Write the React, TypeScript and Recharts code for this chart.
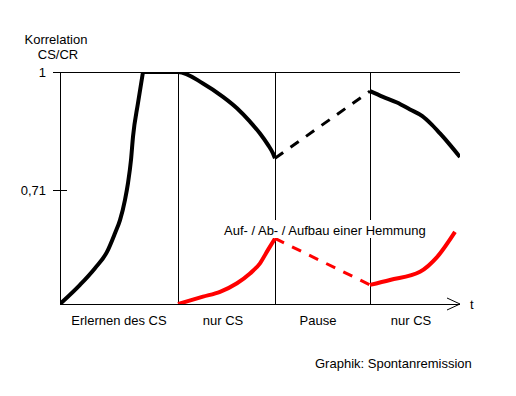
import React from 'react';
import { LineChart, Line, XAxis, YAxis, ReferenceLine } from 'recharts';

// time axis runs 0..400, correlation axis 0.43..1 (schematic)
const learnT = [0, 20, 35, 47, 55, 60, 65, 68, 71, 73, 78, 83];
const learnV = [0.43, 0.477, 0.518, 0.558, 0.604, 0.636, 0.686, 0.727, 0.784, 0.841, 0.924, 1];

const extinct1T = [83, 118, 143, 163, 177, 190, 200, 208, 213, 215];
const extinct1V = [1, 1, 0.972, 0.939, 0.911, 0.878, 0.849, 0.821, 0.8, 0.788];

const pauseBlackT = [215, 310];
const pauseBlackV = [0.788, 0.953];

const extinct2T = [310, 323, 337, 350, 362, 372, 380, 390, 400];
const extinct2V = [0.953, 0.939, 0.925, 0.908, 0.892, 0.87, 0.849, 0.821, 0.791];

const inhib1T = [118, 143, 160, 177, 190, 200, 208, 215];
const inhib1V = [0.43, 0.448, 0.46, 0.481, 0.505, 0.53, 0.563, 0.591];

const pauseRedT = [215, 310];
const pauseRedV = [0.591, 0.477];

const inhib2T = [310, 330, 360, 377, 395];
const inhib2V = [0.477, 0.489, 0.509, 0.545, 0.607];

const phaseBounds = [118, 215, 310];
const phaseTicks = [59, 163, 258, 351];
const phaseLabels = ['Erlernen des CS', 'nur CS', 'Pause', 'nur CS'];
const yTicks = [0.71, 1];

const zip = (t: number[], v: number[]) => t.map((x, i) => ({ t: x, v: v[i] }));

const FONT = '"Liberation Sans", Arial, sans-serif';

const YTick = (props: any) => {
  const { x, y, payload } = props;
  return (
    <g>
      <line x1={x - 7} x2={x + 7} y1={y} y2={y} stroke="#000" shapeRendering="crispEdges" />
      <text x={x - 14} y={y} dy={4.6} textAnchor="end" fontSize={13} fill="#000" fontFamily={FONT}>
        {String(payload.value).replace('.', ',')}
      </text>
    </g>
  );
};

const XTick = (props: any) => {
  const { x, y, payload, index } = props;
  return (
    <text x={x} y={y + 21} textAnchor="middle" fontSize={13} fill="#000" fontFamily={FONT}>
      {phaseLabels[index] ?? payload.value}
    </text>
  );
};

const ArrowAxis = (p: any) => (
  <g>
    <line x1={p.x1} y1={p.y1} x2={p.x2} y2={p.y2} stroke="#000" shapeRendering="crispEdges" />
    <polyline
      points={`${p.x2 - 13},${p.y2 - 6} ${p.x2},${p.y2} ${p.x2 - 13},${p.y2 + 6}`}
      fill="none"
      stroke="#000"
    />
  </g>
);

const txt: React.CSSProperties = {
  position: 'absolute',
  fontFamily: FONT,
  fontSize: 13,
  lineHeight: '15px',
  color: '#000',
  whiteSpace: 'nowrap',
};

export default function App() {
  return (
    <div style={{ position: 'absolute', left: 0, top: 0, width: 516, height: 396, background: '#fff' }}>
      <LineChart width={516} height={396} margin={{ top: 72, right: 56, bottom: 62, left: 0 }}>
        <XAxis
          type="number"
          dataKey="t"
          domain={[0, 400]}
          ticks={phaseTicks}
          axisLine={false}
          tickLine={false}
          tickSize={0}
          tickMargin={0}
          height={30}
          tick={<XTick />}
          allowDataOverflow
        />
        <YAxis
          type="number"
          dataKey="v"
          domain={[0.43, 1]}
          ticks={yTicks}
          width={60}
          tickLine={false}
          tickSize={0}
          tickMargin={0}
          axisLine={{ stroke: '#000', shapeRendering: 'crispEdges' }}
          tick={<YTick />}
          allowDataOverflow
        />
        <ReferenceLine y={1} stroke="#000" shapeRendering="crispEdges" />
        {phaseBounds.map((b) => (
          <ReferenceLine key={b} x={b} stroke="#000" shapeRendering="crispEdges" />
        ))}
        <ReferenceLine
          y={0.43}
          shape={<ArrowAxis />}
          label={{ value: 't', position: 'right', offset: 10, fill: '#000', fontSize: 13, fontFamily: FONT }}
        />

        <Line data={zip(learnT, learnV)} dataKey="v" type="monotone" stroke="#000" strokeWidth={4} dot={false} strokeLinecap="round" isAnimationActive={false} />
        <Line data={zip(extinct1T, extinct1V)} dataKey="v" type="monotone" stroke="#000" strokeWidth={4} dot={false} isAnimationActive={false} />
        <Line data={zip(pauseBlackT, pauseBlackV)} dataKey="v" type="linear" stroke="#000" strokeWidth={3} strokeDasharray="10 9" dot={false} isAnimationActive={false} />
        <Line data={zip(extinct2T, extinct2V)} dataKey="v" type="monotone" stroke="#000" strokeWidth={4} dot={false} isAnimationActive={false} />

        <Line data={zip(inhib1T, inhib1V)} dataKey="v" type="monotone" stroke="#ff0000" strokeWidth={4} dot={false} isAnimationActive={false} />
        <Line data={zip(pauseRedT, pauseRedV)} dataKey="v" type="linear" stroke="#ff0000" strokeWidth={3} strokeDasharray="10 9" dot={false} isAnimationActive={false} />
        <Line data={zip(inhib2T, inhib2V)} dataKey="v" type="monotone" stroke="#ff0000" strokeWidth={4} dot={false} isAnimationActive={false} />
      </LineChart>

      <div style={{ ...txt, left: 16, top: 32, width: 80, textAlign: 'center' }}>Korrelation</div>
      <div style={{ ...txt, left: 18, top: 47, width: 80, textAlign: 'center' }}>CS/CR</div>
      <div style={{ ...txt, left: 224, top: 220, padding: '3px 0 0 0', background: '#fff' }}>
        Auf- / Ab- / Aufbau einer Hemmung
      </div>
      <div style={{ ...txt, left: 315, top: 356 }}>Graphik: Spontanremission</div>
    </div>
  );
}
